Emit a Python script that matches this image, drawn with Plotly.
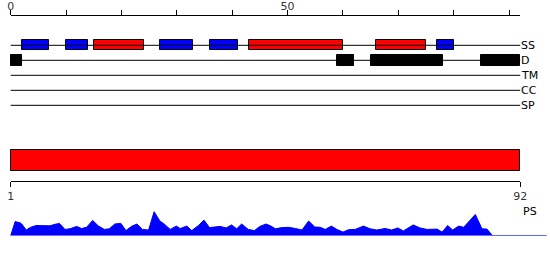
import plotly.graph_objects as go

# ---------------- data ----------------
SEQ_LEN = 92
TRACKS = ["SS", "D", "TM", "CC", "SP"]

# secondary structure segments (start, end) in residues
SS_BLUE = [(2, 7), (10, 14), (27, 33), (36, 41), (77, 80)]
SS_RED = [(15, 24), (43, 60), (66, 75)]
# disorder segments
D_BLACK = [(0, 2), (59, 62), (65, 78), (85, 92)]

# PS profile (position, score)
PS_POS = [0.0, 0.8, 1.7, 2.0, 2.8, 3.6, 4.6, 5.9, 7.1, 8.0, 8.8, 9.8, 10.7, 11.9, 12.8,
          13.7, 14.8, 15.8, 16.9, 17.8, 18.8, 19.9, 20.8, 21.9, 22.8, 23.8, 24.9, 25.9,
          26.9, 27.9, 28.8, 29.9, 30.6, 31.8, 32.7, 33.9, 34.9, 35.9, 36.9, 37.8, 38.9,
          39.9, 40.8, 41.7, 42.9, 44.0, 45.0, 46.1, 47.0, 47.8, 49.0, 50.2, 51.4, 52.6,
          53.8, 54.9, 55.9, 56.8, 57.9, 58.9, 60.0, 61.0, 62.2, 63.7, 64.9, 66.1, 67.6,
          68.8, 69.9, 70.9, 72.7, 73.9, 75.2, 77.0, 77.9, 78.9, 79.8, 80.9, 81.8, 83.9,
          85.1, 86.0, 87.0, 96.8]
PS_VAL = [0.0, 0.47, 0.43, 0.39, 0.19, 0.28, 0.34, 0.34, 0.33, 0.38, 0.41, 0.21, 0.23,
          0.31, 0.24, 0.28, 0.51, 0.33, 0.21, 0.23, 0.39, 0.41, 0.17, 0.32, 0.39, 0.21,
          0.19, 0.80, 0.50, 0.36, 0.21, 0.32, 0.24, 0.32, 0.17, 0.34, 0.52, 0.27, 0.28,
          0.31, 0.26, 0.36, 0.23, 0.39, 0.21, 0.17, 0.31, 0.39, 0.32, 0.23, 0.27, 0.28,
          0.24, 0.19, 0.49, 0.29, 0.28, 0.21, 0.32, 0.21, 0.12, 0.20, 0.21, 0.32, 0.23,
          0.19, 0.24, 0.19, 0.26, 0.16, 0.36, 0.26, 0.21, 0.22, 0.12, 0.34, 0.19, 0.32,
          0.28, 0.71, 0.23, 0.22, 0.0, 0.0]

# ---------------- layout constants ----------------
W, H = 550, 260
X0PX = 10.7          # pixel of residue 0
PXU = 5.538          # pixels per residue
TRACK_Y = {"SS": 45.3, "D": 60.3, "TM": 75.3, "CC": 90.3, "SP": 105.3}
BOX_H = {"SS": 10, "D": 10.7}
FULL_Y, FULL_H = 160.3, 20.6
FONT = "DejaVu Sans"
FS = 11

x_range = [-X0PX / PXU, (W - X0PX) / PXU]
dom = [X0PX / W, (X0PX + SEQ_LEN * PXU) / W]

fig = go.Figure()

# track lines
for t in TRACKS:
    fig.add_trace(go.Scatter(x=[0, SEQ_LEN], y=[TRACK_Y[t]] * 2, mode="lines",
                             line=dict(color="black", width=1), hoverinfo="skip",
                             showlegend=False))

def add_boxes(segs, track, color, line_color):
    fig.add_trace(go.Bar(
        orientation="h",
        base=[s for s, e in segs],
        x=[e - s for s, e in segs],
        y=[TRACK_Y[track]] * len(segs),
        width=BOX_H[track],
        marker=dict(color=color, line=dict(color=line_color, width=1)),
        showlegend=False, hoverinfo="skip"))

add_boxes(SS_BLUE, "SS", "#0000ff", "black")
add_boxes(SS_RED, "SS", "#ff0000", "black")
add_boxes(D_BLACK, "D", "black", "black")

# full-length bar
fig.add_trace(go.Bar(orientation="h", base=[0], x=[SEQ_LEN], y=[FULL_Y], width=FULL_H,
                     marker=dict(color="#ff0000", line=dict(color="black", width=1)),
                     showlegend=False, hoverinfo="skip"))

# PS profile
fig.add_trace(go.Scatter(x=PS_POS, y=PS_VAL, mode="lines", fill="tozeroy",
                         fillcolor="#0000ff", line=dict(color="#0000ff", width=1),
                         xaxis="x", yaxis="y2", showlegend=False, hoverinfo="skip"))

# dummy traces for the axes
fig.add_trace(go.Scatter(x=[], y=[], xaxis="x2", yaxis="y", showlegend=False))
fig.add_trace(go.Scatter(x=[], y=[], xaxis="x3", yaxis="y", showlegend=False))

for t in TRACKS:
    fig.add_annotation(x=dom[1], xref="paper", y=TRACK_Y[t], yref="y", text=t,
                       showarrow=False, xanchor="left", yanchor="middle",
                       font=dict(family=FONT, size=FS, color="black"), borderpad=0)
fig.add_annotation(x=(521.5) / W, xref="paper", y=211, yref="y", text="PS",
                   showarrow=False, xanchor="left", yanchor="middle",
                   font=dict(family=FONT, size=FS, color="black"), borderpad=0)

top_ticks = list(range(0, 91, 10))
fig.update_layout(
    width=W, height=H, margin=dict(l=0, r=0, t=0, b=0, pad=0, autoexpand=False),
    paper_bgcolor="white", plot_bgcolor="rgba(0,0,0,0)",
    barmode="overlay", bargap=0,
    font=dict(family=FONT, size=FS, color="black"),
    xaxis=dict(range=x_range, domain=[0, 1], visible=False, fixedrange=True,
               automargin=False),
    yaxis=dict(range=[H, 0], domain=[0, 1], visible=False, fixedrange=True,
               automargin=False),
    yaxis2=dict(range=[0, 1], domain=[(H - 235.7) / H, (H - 205.7) / H],
                visible=False, anchor="x", automargin=False),
    xaxis2=dict(range=[0, SEQ_LEN], domain=dom, anchor="free", position=(H - 15) / H,
                side="top", showline=True, linecolor="black", linewidth=1,
                ticks="outside", ticklen=5, tickcolor="black", tickwidth=1,
                tickvals=top_ticks, ticklabelstandoff=-4, automargin=False,
                ticktext=[str(v) if v in (0, 50) else "" for v in top_ticks],
                showgrid=False, zeroline=False,
                tickfont=dict(family=FONT, size=FS, color="#333")),
    xaxis3=dict(range=[1, SEQ_LEN], domain=dom, anchor="free", position=(H - 180.7) / H,
                side="bottom", showline=True, linecolor="black", linewidth=1,
                ticks="outside", ticklen=5, tickcolor="black", tickwidth=1,
                tickvals=[1, SEQ_LEN], ticktext=["1", str(SEQ_LEN)], automargin=False,
                showgrid=False, zeroline=False,
                tickfont=dict(family=FONT, size=FS, color="#333")),
)

fig.write_html("out.html")
